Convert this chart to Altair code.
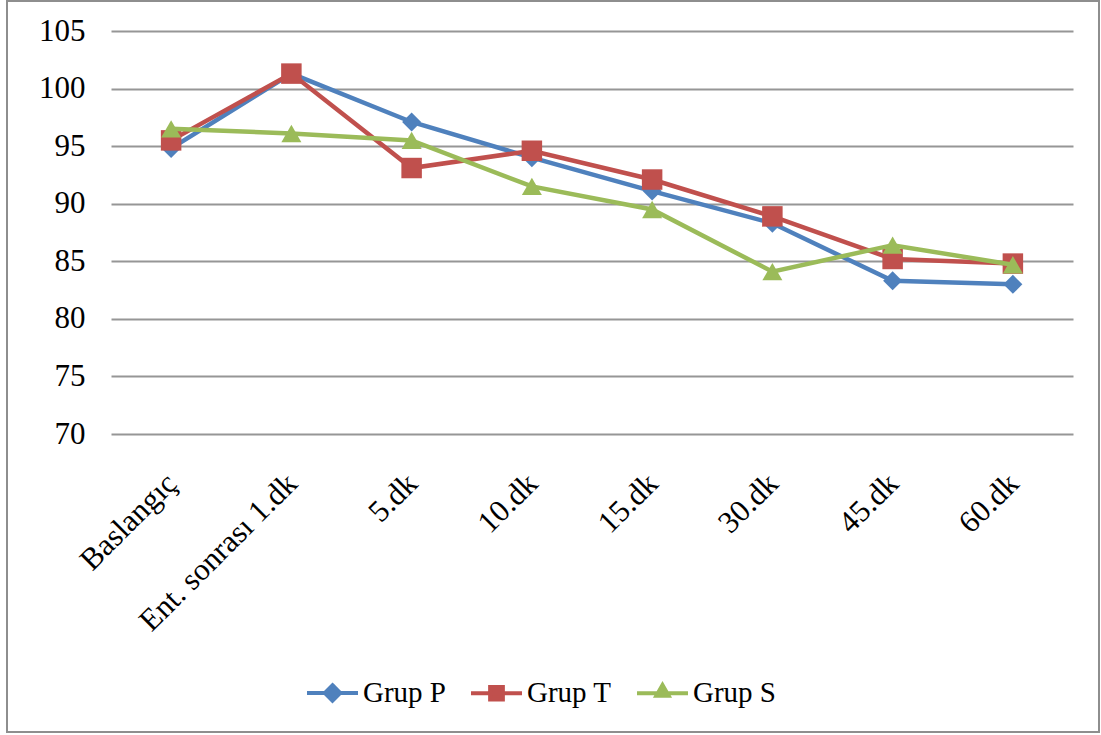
import altair as alt
import pandas as pd

# Measurement times (x categories)
times = ["Baslangıç", "Ent. sonrası 1.dk", "5.dk", "10.dk", "15.dk", "30.dk", "45.dk", "60.dk"]

# Mean values per group
grup_p = [94.8, 101.3, 97.1, 94.0, 91.1, 88.3, 83.3, 83.0]
grup_t = [95.5, 101.3, 93.1, 94.6, 92.1, 88.9, 85.2, 84.8]
grup_s = [96.5, 96.1, 95.5, 91.5, 89.5, 84.1, 86.4, 84.7]

groups = ["Grup P", "Grup T", "Grup S"]
colors = ["#4F81BD", "#C0504D", "#9BBB59"]
shapes = ["diamond", "square", "triangle-up"]
sizes = [360, 420, 400]

# legend glyphs: a short line with the marker on it
legend_paths = [
    "M-1,0L1,0M0,-0.3L0.3,0L0,0.3L-0.3,0Z",
    "M-1,0L1,0M-0.25,-0.25L0.25,-0.25L0.25,0.25L-0.25,0.25Z",
    "M-1,0L1,0M0,-0.32L0.24,0.1L-0.24,0.1Z",
]

rows = []
for g, vals in zip(groups, [grup_p, grup_t, grup_s]):
    for t, v in zip(times, vals):
        rows.append({"time": t, "value": v, "group": g})
df = pd.DataFrame(rows)

FONT = "Liberation Serif"

x_enc = alt.X(
    "time:N",
    sort=times,
    title=None,
    axis=alt.Axis(
        labelAngle=-45,
        labelFont=FONT,
        labelFontSize=31,
        labelColor="black",
        labelPadding=34,
        labelOffset=-10,
        labelLimit=0,
        ticks=False,
        domain=False,
        grid=False,
    ),
)
y_enc = alt.Y(
    "value:Q",
    title=None,
    scale=alt.Scale(domain=[70, 105], nice=False, zero=False),
    axis=alt.Axis(
        values=[70, 75, 80, 85, 90, 95, 100, 105],
        labelFont=FONT,
        labelFontSize=31,
        labelColor="black",
        labelPadding=26,
        ticks=False,
        domain=False,
        grid=True,
        gridColor="#969696",
        gridWidth=1.8,
    ),
)

base = alt.Chart(df)
layers = []
for g, c, s, sz in zip(groups, colors, shapes, sizes):
    sub = base.transform_filter(alt.datum.group == g)
    layers.append(sub.mark_line(color=c, strokeWidth=4.5).encode(x=x_enc, y=y_enc))
    layers.append(
        sub.mark_point(filled=True, shape=s, size=sz, color=c, opacity=1).encode(x=x_enc, y=y_enc)
    )

# legend-only layer (no marks drawn)
legend_layer = (
    base.transform_filter("false")
    .mark_point(filled=True, opacity=1)
    .encode(
        fill=alt.Fill(
            "group:N",
            scale=alt.Scale(domain=groups, range=colors),
            legend=alt.Legend(
                title=None,
                orient="none",
                direction="horizontal",
                legendX=194,
                legendY=634,
                symbolSize=2600,
                symbolStrokeWidth=4,
                labelFont=FONT,
                labelFontSize=29,
                labelColor="black",
                labelOffset=3,
                columnPadding=17,
                padding=0,
            ),
        ),
        stroke=alt.Stroke("group:N", scale=alt.Scale(domain=groups, range=colors)),
        shape=alt.Shape("group:N", scale=alt.Scale(domain=groups, range=legend_paths)),
    )
)

# outer chart frame
frame = (
    alt.Chart(pd.DataFrame({"k": [0]}))
    .mark_rect(fill=None, stroke="#8e8e8e", strokeWidth=2, clip=False)
    .encode(
        x=alt.value(-104),
        x2=alt.value(988),
        y=alt.value(-30),
        y2=alt.value(701),
    )
)

chart = (
    alt.layer(*layers, legend_layer, frame)
    .properties(
        width=962,
        height=403,
        autosize=alt.AutoSizeParams(type="none"),
        padding={"left": 111, "top": 31, "right": 28, "bottom": 301},
        background="white",
    )
    .configure_view(stroke=None)
)

chart.save("out.html", embed_options={"renderer": "svg", "actions": False})
